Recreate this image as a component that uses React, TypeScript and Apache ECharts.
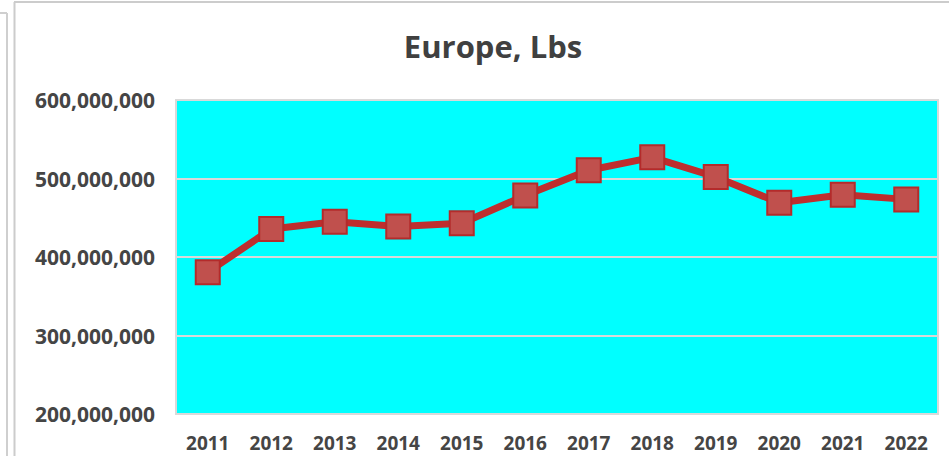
import React, { useEffect, useRef } from "react";
import * as echarts from "echarts";

const categories = ["2011", "2012", "2013", "2014", "2015", "2016", "2017", "2018", "2019", "2020", "2021", "2022"];
const europeLbs = [380700000, 435600000, 445000000, 439000000, 443000000, 478500000, 510500000, 527000000, 502000000, 469000000, 479400000, 473400000];
const yTicks = { min: 200000000, max: 600000000, interval: 100000000 };
const titleText = "Europe, Lbs";

export default function App() {
  const ref = useRef<HTMLDivElement>(null);
  useEffect(() => {
    if (!ref.current) return;
    const chart = echarts.init(ref.current, null, { renderer: "svg" });
    const font = "'Open Sans', 'DejaVu Sans', sans-serif";
    chart.setOption({
      animation: false,
      backgroundColor: "#ffffff",
      title: {
        text: titleText,
        left: 488,
        textAlign: "center",
        top: 25,
        textStyle: { fontFamily: font, fontWeight: "bold", fontSize: 31, color: "#404040" },
      },
      graphic: [
        { type: "line", shape: { x1: 7, y1: 13, x2: 7, y2: 456 }, style: { stroke: "#cfcfcf", lineWidth: 2 } },
        { type: "line", shape: { x1: 0, y1: 13, x2: 7, y2: 13 }, style: { stroke: "#cfcfcf", lineWidth: 2 } },
        { type: "line", shape: { x1: 14.5, y1: 2, x2: 14.5, y2: 456 }, style: { stroke: "#cccccc", lineWidth: 2 } },
        { type: "line", shape: { x1: 14, y1: 2, x2: 949, y2: 2 }, style: { stroke: "#cccccc", lineWidth: 2 } },
      ],
      grid: {
        left: 176,
        right: 11,
        top: 100,
        bottom: 42,
        show: true,
        backgroundColor: "#00ffff",
        borderColor: "#d9d9d9",
        borderWidth: 2,
      },
      xAxis: {
        type: "category",
        data: categories,
        boundaryGap: true,
        axisLine: { show: false },
        axisTick: { show: false },
        axisLabel: { fontFamily: font, fontWeight: "bold", fontSize: 19, color: "#454545", margin: 19 },
      },
      yAxis: {
        type: "value",
        min: yTicks.min,
        max: yTicks.max,
        interval: yTicks.interval,
        axisLine: { show: false },
        axisTick: { show: false },
        splitLine: { show: true, lineStyle: { color: "#d9d9d9", width: 2 } },
        axisLabel: {
          fontFamily: font,
          fontWeight: "bold",
          fontSize: 21,
          color: "#454545",
          margin: 21,
          formatter: (v: number) => v.toLocaleString("en-US"),
        },
      },
      series: [
        {
          type: "line",
          data: europeLbs,
          symbol: "rect",
          symbolSize: 24,
          lineStyle: { color: "#be2e2e", width: 7 },
          itemStyle: { color: "#c0504d", borderColor: "#b42b2b", borderWidth: 2 },
          z: 3,
        },
      ],
    });
    return () => chart.dispose();
  }, []);
  return (
    <div
      ref={ref}
      style={{ position: "absolute", left: 0, top: 0, width: 949, height: 456 }}
    />
  );
}
